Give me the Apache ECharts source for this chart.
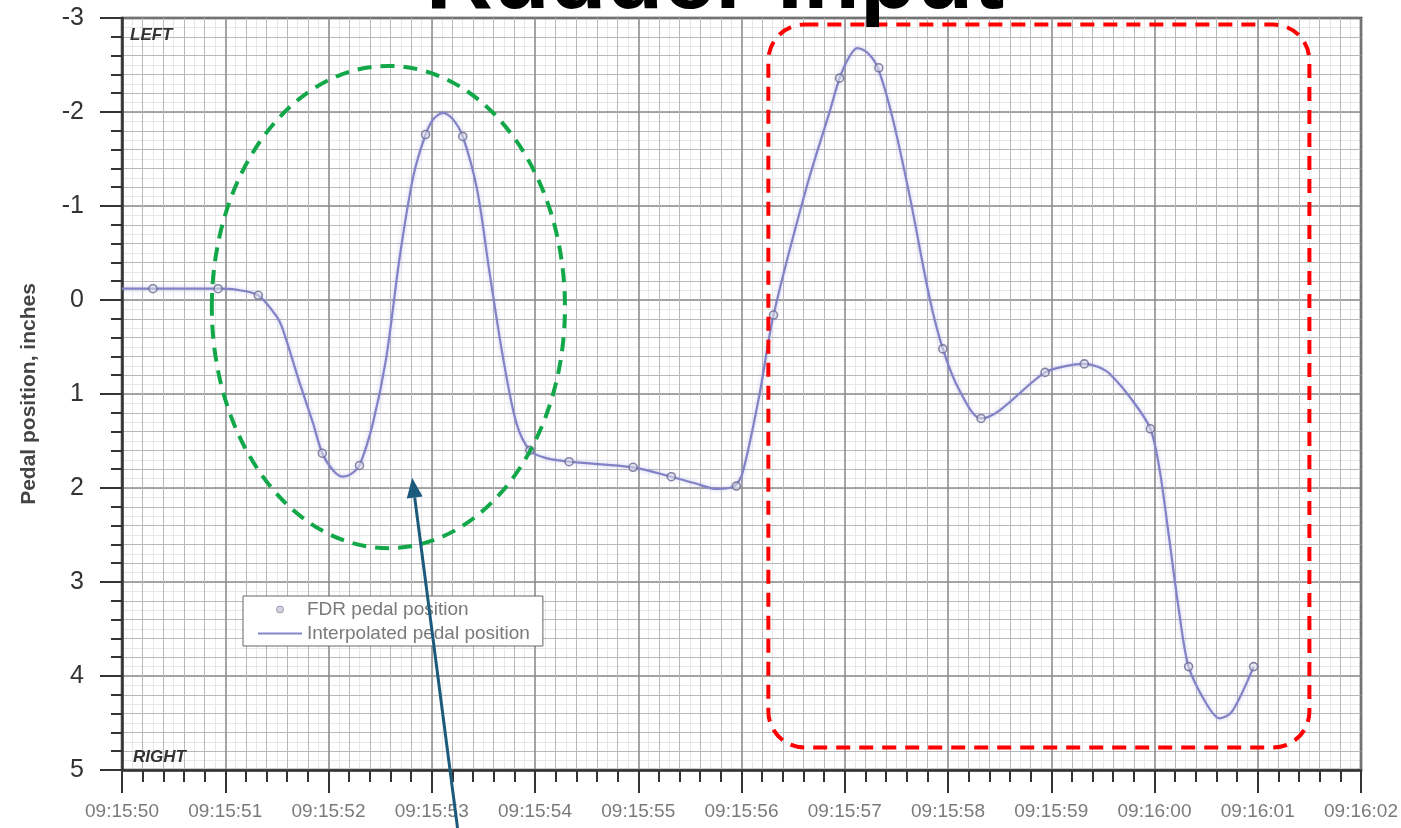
<!DOCTYPE html>
<html>
<head>
<meta charset="utf-8">
<script src="https://cdn.jsdelivr.net/npm/echarts@6/dist/echarts.min.js"></script>
<style>
html,body{margin:0;padding:0;background:#fff;}
#c{width:1401px;height:828px;}
</style>
</head>
<body>
<div id="c"></div>
<script>
// ---- data ----
const titleText = 'Rudder Input';
const yAxisName = 'Pedal position, inches';
const xTickLabels = ['09:15:50','09:15:51','09:15:52','09:15:53','09:15:54','09:15:55','09:15:56','09:15:57','09:15:58','09:15:59','09:16:00','09:16:01','09:16:02'];
const seriesNames = ['FDR pedal position', 'Interpolated pedal position'];
// FDR samples: seconds after 09:15:50, pedal position (inches, negative = left)
const fdrTime = [0.30, 0.93, 1.32, 1.94, 2.30, 2.94, 3.30, 3.95, 4.33, 4.95, 5.32, 5.95, 6.31, 6.95, 7.33, 7.95, 8.32, 8.94, 9.32, 9.96, 10.33, 10.96];
const fdrPos  = [-0.12, -0.12, -0.05, 1.63, 1.76, -1.76, -1.74, 1.60, 1.72, 1.78, 1.88, 1.98, 0.16, -2.36, -2.47, 0.52, 1.26, 0.77, 0.68, 1.37, 3.90, 3.90];
// Interpolated curve
const interpTime = [0.00, 0.30, 0.93, 1.10, 1.32, 1.50, 1.56, 1.72, 1.85, 1.94, 2.05, 2.14, 2.22, 2.30, 2.43, 2.56, 2.69, 2.82, 2.94, 3.02, 3.11, 3.20, 3.30, 3.44, 3.56, 3.69, 3.82, 3.95, 4.10, 4.33, 4.95, 5.32, 5.55, 5.76, 5.93, 6.01, 6.17, 6.31, 6.63, 6.85, 6.95, 7.04, 7.12, 7.22, 7.32, 7.46, 7.63, 7.82, 7.95, 8.11, 8.32, 8.94, 9.15, 9.32, 9.45, 9.56, 9.78, 9.96, 10.05, 10.14, 10.24, 10.33, 10.50, 10.63, 10.75, 10.96];
const interpPos  = [-0.12, -0.12, -0.12, -0.11, -0.05, 0.18, 0.32, 0.88, 1.31, 1.63, 1.82, 1.88, 1.85, 1.76, 1.31, 0.61, -0.46, -1.31, -1.76, -1.93, -1.99, -1.93, -1.74, -1.17, -0.29, 0.61, 1.31, 1.60, 1.68, 1.72, 1.78, 1.88, 1.95, 2.01, 1.98, 1.84, 1.03, 0.16, -1.20, -1.99, -2.36, -2.58, -2.68, -2.63, -2.47, -1.95, -1.10, -0.03, 0.52, 0.96, 1.26, 0.77, 0.70, 0.68, 0.71, 0.78, 1.06, 1.37, 1.81, 2.52, 3.33, 3.90, 4.29, 4.45, 4.38, 3.90];
// annotation shapes in data coordinates
const ellipseX = [0.87, 4.29];   // seconds
const ellipseY = [-2.49, 2.64];  // inches
const boxX = [6.26, 11.50];
const boxY = [-2.93, 4.76];
const arrowFrom = [3.25, 5.62];
const arrowTo = [2.81, 1.89];

const FONT = '"Liberation Sans", Arial, sans-serif';

const chart = echarts.init(document.getElementById('c'));

const faintX = {
  type: 'value', min: 0, max: 12, interval: 0.1, gridIndex: 0, z: -1,
  axisLine: {show: false}, axisTick: {show: false}, axisLabel: {show: false},
  splitLine: {show: true, lineStyle: {color: '#e8e8e8', width: 1}}
};
const faintY = {
  type: 'value', min: -3, max: 5, interval: 0.1, inverse: true, gridIndex: 0, z: -1,
  axisLine: {show: false}, axisTick: {show: false}, axisLabel: {show: false},
  splitLine: {show: true, lineStyle: {color: '#e8e8e8', width: 1}}
};

const option = {
  animation: false,
  backgroundColor: '#fff',
  grid: {left: 122, right: 39, top: 18, bottom: 58, show: true, borderColor: '#333', borderWidth: 2.5, backgroundColor: 'transparent'},
  xAxis: [{
    type: 'value', min: 0, max: 12, interval: 1, position: 'bottom',
    axisLine: {show: true, onZero: false, lineStyle: {color: '#333', width: 2.5}},
    axisTick: {show: true, inside: false, length: 23, lineStyle: {color: '#333', width: 2}},
    minorTick: {show: true, splitNumber: 5, length: 12, lineStyle: {color: '#333', width: 2}},
    splitLine: {show: true, lineStyle: {color: '#8a8a8a', width: 1.5}},
    minorSplitLine: {show: true, lineStyle: {color: '#b8b8b8', width: 1}},
    axisLabel: {
      margin: 32, color: '#7a7a7a', fontSize: 19, fontFamily: FONT,
      formatter: v => xTickLabels[Math.round(v)] || ''
    }
  }, faintX],
  yAxis: [{
    type: 'value', min: -3, max: 5, interval: 1, inverse: true,
    name: yAxisName, nameLocation: 'middle', nameGap: 82, nameRotate: 90,
    nameTextStyle: {color: '#444', fontSize: 21, fontWeight: 'bold', fontFamily: FONT},
    axisLine: {show: true, onZero: false, lineStyle: {color: '#333', width: 2.5}},
    axisTick: {show: true, inside: false, length: 22, lineStyle: {color: '#333', width: 2}},
    minorTick: {show: true, splitNumber: 5, length: 11, lineStyle: {color: '#333', width: 2}},
    splitLine: {show: true, lineStyle: {color: '#8a8a8a', width: 1.5}},
    minorSplitLine: {show: true, lineStyle: {color: '#b8b8b8', width: 1}},
    axisLabel: {margin: 38, color: '#333', fontSize: 25, fontFamily: FONT}
  }, faintY],
  legend: {
    orient: 'vertical', left: 243, top: 596,
    backgroundColor: '#fff', borderColor: '#666', borderWidth: 1, borderRadius: 0,
    padding: [4, 13, 3, 15], itemGap: 5, itemWidth: 44, itemHeight: 7,
    textStyle: {color: '#7a7a7a', fontSize: 19, fontFamily: FONT},
    data: [
      {name: seriesNames[0], icon: 'circle', itemStyle: {color: '#c8c8d8', borderColor: '#8a8aa8', borderWidth: 1}},
      {name: seriesNames[1], icon: 'path://M0,0L44,0L44,2L0,2Z', itemStyle: {color: '#8585c8'}}
    ]
  },
  series: [{
    name: seriesNames[1], type: 'line', xAxisIndex: 0, yAxisIndex: 0,
    data: interpTime.map((t, i) => [t, interpPos[i]]),
    smooth: 0.3, symbol: 'none',
    lineStyle: {color: '#8282c6', width: 2.2, shadowColor: 'rgba(130,130,220,0.45)', shadowBlur: 4},
    itemStyle: {color: '#8585c8'}, z: 3
  }, {
    name: seriesNames[0], type: 'scatter', xAxisIndex: 0, yAxisIndex: 0,
    data: fdrTime.map((t, i) => [t, fdrPos[i]]),
    symbol: 'circle', symbolSize: 8,
    itemStyle: {color: 'rgba(225,225,235,0.7)', borderColor: '#6a6a92', borderWidth: 1.6}, z: 4
  }]
};
chart.setOption(option);

function px(pt) { return chart.convertToPixel({xAxisIndex: 0, yAxisIndex: 0}, pt); }

const e0 = px([ellipseX[0], ellipseY[0]]), e1 = px([ellipseX[1], ellipseY[1]]);
const b0 = px([boxX[0], boxY[0]]), b1 = px([boxX[1], boxY[1]]);
const a0 = px(arrowFrom), a1 = px(arrowTo);
const dx = a1[0] - a0[0], dy = a1[1] - a0[1];
const len = Math.sqrt(dx * dx + dy * dy);
const ux = dx / len, uy = dy / len;
const headL = 20, headW = 8;
const base = [a1[0] - ux * headL, a1[1] - uy * headL];
const head = [[a1[0], a1[1]], [base[0] - uy * headW, base[1] + ux * headW], [base[0] + uy * headW, base[1] - ux * headW]];

chart.setOption({
  graphic: [
    {
      type: 'ellipse', z: 100,
      shape: {cx: (e0[0] + e1[0]) / 2, cy: (e0[1] + e1[1]) / 2, rx: Math.abs(e1[0] - e0[0]) / 2, ry: Math.abs(e1[1] - e0[1]) / 2},
      style: {fill: 'none', stroke: '#12a84a', lineWidth: 4, lineDash: [14, 9]}
    },
    {
      type: 'rect', z: 100,
      shape: {x: b0[0], y: b0[1], width: b1[0] - b0[0], height: b1[1] - b0[1], r: 36},
      style: {fill: 'none', stroke: '#ff0000', lineWidth: 4, lineDash: [14, 9]}
    },
    {
      type: 'line', z: 100,
      shape: {x1: a0[0], y1: a0[1], x2: base[0], y2: base[1]},
      style: {stroke: '#1c5a7c', lineWidth: 3}
    },
    {
      type: 'polygon', z: 100,
      shape: {points: head},
      style: {fill: '#1c5a7c'}
    },
    {
      type: 'text', z: 101, x: 715, y: -18,
      style: {text: titleText, font: 'bold 93px ' + FONT, fill: '#000', align: 'center', verticalAlign: 'middle', textAlign: 'center', textVerticalAlign: 'middle'}
    },
    {
      type: 'text', z: 50, x: 130, y: 35,
      style: {text: 'LEFT', font: 'italic bold 17px ' + FONT, fill: '#333', align: 'left', verticalAlign: 'middle', textAlign: 'left', textVerticalAlign: 'middle'}
    },
    {
      type: 'text', z: 50, x: 133, y: 757,
      style: {text: 'RIGHT', font: 'italic bold 17px ' + FONT, fill: '#333', align: 'left', verticalAlign: 'middle', textAlign: 'left', textVerticalAlign: 'middle'}
    }
  ]
});
</script>
</body>
</html>
